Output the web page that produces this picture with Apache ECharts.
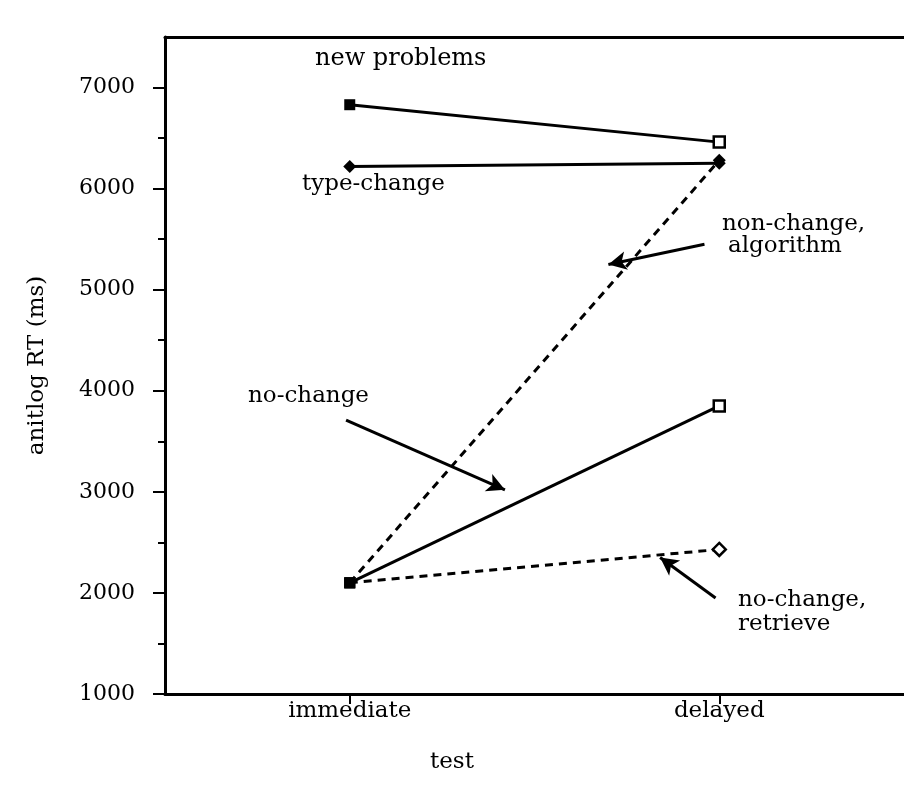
<!DOCTYPE html>
<html>
<head>
<meta charset="utf-8">
<script src="https://cdn.jsdelivr.net/npm/echarts@6/dist/echarts.min.js"></script>
<style>
  html, body { margin: 0; padding: 0; background: #fff; }
  #chart { width: 904px; height: 800px; }
</style>
</head>
<body>
<div id="chart"></div>
<script>
// test conditions (x positions 1 and 2 on the value axis)
const testLabels = ['immediate', 'delayed'];
const testPos = [1, 2];

// antilog RT (ms) per condition
const newProblems = [6830, 6460];
const typeChange = [6220, 6250];
const nonChangeAlgorithm = [2100, 6280];
const noChange = [2100, 3850];
const noChangeRetrieve = [2100, 2430];

const yTicks = [1000, 2000, 3000, 4000, 5000, 6000, 7000];

const FONT = '"DejaVu Serif", "Liberation Serif", serif';

const chart = echarts.init(document.getElementById('chart'));

const pts = vals => vals.map((v, i) => [testPos[i], v]);

const lineSeries = (name, vals, dashed, symbols) => ({
  name,
  type: 'line',
  data: pts(vals).map((p, i) => ({
    value: p,
    symbol: symbols[i].symbol,
    symbolSize: symbols[i].size,
    itemStyle: symbols[i].itemStyle
  })),
  lineStyle: { color: '#000', width: 3, type: dashed ? [8, 6] : 'solid' },
  showAllSymbol: true,
  z: dashed ? 2 : 3,
  silent: true
});

const filledRect = { symbol: 'rect', size: 11, itemStyle: { color: '#000' } };
const openRect = { symbol: 'rect', size: 11, itemStyle: { color: '#fff', borderColor: '#000', borderWidth: 2.5 } };
const filledDiamond = { symbol: 'diamond', size: 13, itemStyle: { color: '#000' } };
const openDiamond = { symbol: 'diamond', size: 13, itemStyle: { color: '#fff', borderColor: '#000', borderWidth: 2.5 } };

// arrows, in data coordinates [start, end]
const arrows = [
  [[1.96, 5450], [1.70, 5250]],
  [[0.99, 3710], [1.42, 3020]],
  [[1.99, 1950], [1.84, 2350]]
];

// annotation text, left edge and vertical middle
const note = (text, x, y, size) => ({
  type: 'text',
  x,
  y,
  style: { text, font: (size || 23) + 'px ' + FONT, fill: '#000', verticalAlign: 'middle', align: 'left' }
});

const option = {
  backgroundColor: '#fff',
  animation: false,
  grid: { left: 165, right: -11, top: 37, bottom: 106, containLabel: false },
  xAxis: [
    {
      type: 'value',
      min: 0.5,
      max: 2.5,
      axisLine: { onZero: false, lineStyle: { color: '#000', width: 3 } },
      axisTick: { show: true, length: 10, lineStyle: { color: '#000', width: 2 }, customValues: testPos },
      axisLabel: {
        customValues: testPos,
        margin: 6,
        fontFamily: FONT,
        fontSize: 23,
        color: '#000',
        formatter: v => testLabels[testPos.indexOf(v)] || ''
      },
      splitLine: { show: false }
    },
    {
      type: 'value',
      position: 'top',
      min: 0.5,
      max: 2.5,
      axisLine: { onZero: false, lineStyle: { color: '#000', width: 3 } },
      axisTick: { show: false },
      axisLabel: { show: false },
      splitLine: { show: false }
    }
  ],
  yAxis: {
    type: 'value',
    min: 1000,
    max: 7500,
    interval: 1000,
    name: 'anitlog RT (ms)',
    nameLocation: 'middle',
    nameGap: 116,
    nameTextStyle: { fontFamily: FONT, fontSize: 23, color: '#000' },
    axisLine: { show: true, onZero: false, lineStyle: { color: '#000', width: 3 } },
    axisTick: { show: true, length: 12, lineStyle: { color: '#000', width: 2 }, customValues: yTicks },
    minorTick: { show: true, splitNumber: 2, length: 7, lineStyle: { color: '#000', width: 2 } },
    axisLabel: {
      customValues: yTicks,
      margin: 30,
      fontFamily: FONT,
      fontSize: 22,
      color: '#000',
      formatter: v => String(v)
    },
    splitLine: { show: false }
  },
  series: [
    lineSeries('new problems', newProblems, false, [filledRect, openRect]),
    lineSeries('type-change', typeChange, false, [filledDiamond, filledDiamond]),
    lineSeries('non-change, algorithm', nonChangeAlgorithm, true, [filledRect, filledDiamond]),
    lineSeries('no-change, retrieve', noChangeRetrieve, true, [filledRect, openDiamond]),
    Object.assign(lineSeries('no-change', noChange, false, [filledRect, openRect]), {
      markLine: {
        silent: true,
        symbol: ['none', 'arrow'],
        symbolSize: [14, 18],
        label: { show: false },
        lineStyle: { color: '#000', width: 3, type: 'solid' },
        data: arrows.map(a => [{ coord: a[0] }, { coord: a[1] }])
      }
    })
  ],
  graphic: [
    note('new problems', 315, 59, 24),
    note('type-change', 302, 184),
    note('non-change,', 722, 224),
    note('algorithm', 728, 246),
    note('no-change', 248, 396),
    note('no-change,', 738, 600),
    note('retrieve', 738, 624),
    note('test', 430, 762)
  ]
};

chart.setOption(option);
</script>
</body>
</html>
